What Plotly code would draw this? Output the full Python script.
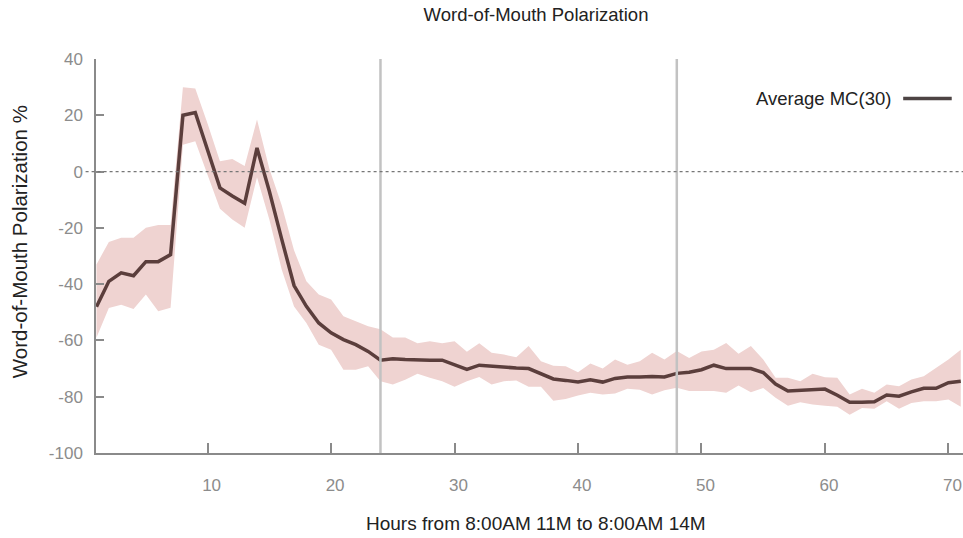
import plotly.graph_objects as go

# Hourly word-of-mouth polarization (%), averaged over 30 Monte Carlo runs
hours = list(range(1, 72))

mean_pol = [
    -48, -39, -36, -37, -32, -32, -29.5, 20, 21, 8,
    -5.8, -8.7, -11.3, 8.4, -7, -24, -40.5, -47.9, -53.8, -57.3,
    -59.7, -61.5, -63.9, -67, -66.5, -66.8, -67, -67, -67, -68.7,
    -70.3, -68.8, -69.2, -69.5, -69.8, -70, -71.7, -73.7, -74.2, -74.8,
    -74, -74.8, -73.5, -73, -73, -72.8, -73, -71.7, -71.3, -70.4,
    -68.8, -70, -70, -70, -71.4, -75.5, -78, -77.8, -77.5, -77.3,
    -79.5, -82, -82, -81.8, -79.4, -79.8, -78.3, -77, -77, -75,
    -74.5,
]

upper_pol = [
    -33, -25, -23.5, -23.5, -20, -19, -19, 30, 29.5, 17,
    3.7, 4.5, 2, 18.5, 1, -12, -28, -39, -43.7, -45.5,
    -51.4, -53.2, -55, -56, -59, -59, -61, -60.3, -61, -60.3,
    -64, -61, -64.4, -65, -66, -62, -67.4, -69, -69.2, -71.3,
    -68.2, -70, -66.8, -68.6, -67.4, -64.4, -66.8, -63.8, -66.2, -63.9,
    -63.3, -60.9, -64.7, -62, -66.8, -73.3, -73.3, -74.5, -71.8, -73.1,
    -73.3, -79.2, -77.2, -78.6, -75.7, -76.3, -73.9, -72.7, -69.8, -66.8,
    -63.3,
]

lower_pol = [
    -59, -48.5, -47.3, -48.8, -43.7, -49.6, -48.4, 9.5, 10.8, -1,
    -13.2, -17, -20, -2, -17, -34.8, -47.9, -53.8, -61.5, -63.3,
    -70.4, -70.4, -69.2, -74.5, -75.7, -74, -71.8, -73.3, -74.5, -76.5,
    -74.5, -73, -75.7, -74.5, -74.2, -76.5, -76.5, -81.4, -80.8, -79.6,
    -78.6, -79.2, -78.9, -77.2, -77.5, -79.2, -77.7, -76.8, -78, -78,
    -78, -78.6, -76, -78.4, -76.9, -80.4, -83.2, -82, -82.8, -83.2,
    -83.6, -86.4, -84, -84.3, -81.6, -84.3, -82.2, -81.6, -81.6, -81,
    -83.6,
]

day_marks = [24, 48]
x_ticks = [10, 20, 30, 40, 50, 60, 70]
y_ticks = [-100, -80, -60, -40, -20, 0, 20, 40]
y_tick_text = ["-100", "-80", "-60", "-40", "-20", "0", "20", "40"]

series_name = "Average MC(30)"
line_color = "#5b3e3c"
band_color = "#efd3d1"
axis_color = "#8a8a8a"
font_family = "Liberation Sans, Arial, sans-serif"

fig = go.Figure()

# spread band
fig.add_trace(go.Scatter(
    x=hours, y=lower_pol, mode="lines", line=dict(width=0, color=band_color),
    showlegend=False, hoverinfo="skip",
))
fig.add_trace(go.Scatter(
    x=hours, y=upper_pol, mode="lines", line=dict(width=0, color=band_color),
    fill="tonexty", fillcolor=band_color, showlegend=False, hoverinfo="skip",
))

# average line
fig.add_trace(go.Scatter(
    x=hours, y=mean_pol, mode="lines", name=series_name,
    line=dict(color=line_color, width=3.5), showlegend=False,
))

# day boundaries
for d in day_marks:
    fig.add_shape(type="line", xref="x", yref="paper", x0=d, x1=d, y0=0, y1=1,
                  line=dict(color="#c2c2c2", width=2.5), layer="above")

# zero reference
fig.add_shape(type="line", xref="paper", yref="y", x0=-0.012, x1=1, y0=0, y1=0,
              line=dict(color="#777777", width=1.2, dash="dot"), layer="above")

# legend entry: label with line sample on its right
fig.add_annotation(xref="paper", yref="paper", x=0.919, y=0.9,
                   text=series_name, showarrow=False, xanchor="right", yanchor="middle",
                   font=dict(family=font_family, size=18.5, color="#222222"))
fig.add_shape(type="line", xref="paper", yref="paper", x0=0.931, x1=0.987, y0=0.9, y1=0.9,
              line=dict(color="#4d4444", width=3.5))

# axis titles
fig.add_annotation(xref="paper", yref="paper", x=0.5075, y=0, yshift=-70,
                   text="Hours from 8:00AM 11M to 8:00AM 14M", showarrow=False,
                   xanchor="center", yanchor="middle",
                   font=dict(family=font_family, size=19, color="#222222"))
fig.add_annotation(xref="paper", yref="paper", x=0, xshift=-77, y=0.535,
                   text="Word-of-Mouth Polarization %", showarrow=False, textangle=-90,
                   xanchor="center", yanchor="middle",
                   font=dict(family=font_family, size=20.5, color="#222222"))

fig.update_layout(
    width=963, height=538,
    margin=dict(l=96, r=0, t=59, b=85),
    paper_bgcolor="white", plot_bgcolor="white",
    font=dict(family=font_family, size=17, color="#8c8c8c"),
    title=dict(text="Word-of-Mouth Polarization", x=0.5075, xref="paper", xanchor="center",
               y=1, yref="container", yanchor="top", pad=dict(t=8),
               font=dict(family=font_family, size=18.5, color="#222222")),
    showlegend=False,
)

fig.update_xaxes(
    range=[0.96, 71.18], tickvals=x_ticks, ticks="inside", ticklen=10, tickwidth=1.5,
    tickcolor=axis_color, showline=True, linecolor=axis_color, linewidth=1.5,
    showgrid=False, zeroline=False, ticklabelstandoff=16, ticklabelshift=4,
    tickfont=dict(size=17, color="#8c8c8c"),
)
fig.update_yaxes(
    range=[-100, 40], tickvals=y_ticks, ticktext=y_tick_text, ticks="inside", ticklen=8,
    tickwidth=1.5, tickcolor=axis_color, showline=True, linecolor=axis_color, linewidth=1.5,
    showgrid=False, zeroline=False, ticklabelstandoff=8,
    tickfont=dict(size=17, color="#8c8c8c"),
)

fig.write_html("out.html")
